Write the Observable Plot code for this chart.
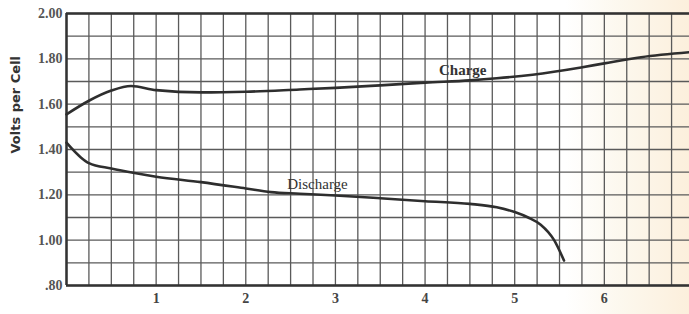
<!DOCTYPE html>
<html>
<head>
<meta charset="utf-8">
<script src="https://cdn.jsdelivr.net/npm/d3@7"></script>
<script src="https://cdn.jsdelivr.net/npm/@observablehq/plot@0.6"></script>
<style>
  html, body { margin: 0; padding: 0; background: #fff; }
  #chart svg { display: block; }
</style>
</head>
<body>
<div id="chart"></div>
<script>
// Charge curve (hours, volts per cell)
const chargeHours = [0, 0.25, 0.5, 0.72, 1.0, 1.5, 2.0, 2.6, 3.0, 3.5, 4.0, 4.5, 4.8, 5.2, 5.74, 6.0, 6.41, 6.95];
const chargeVolts = [1.555, 1.615, 1.66, 1.68, 1.662, 1.652, 1.655, 1.665, 1.672, 1.683, 1.695, 1.705, 1.714, 1.73, 1.762, 1.78, 1.807, 1.829];
// Discharge curve
const dischargeHours = [0, 0.16, 0.25, 0.5, 0.76, 1.0, 1.5, 2.0, 2.28, 2.6, 3.0, 3.5, 4.0, 4.5, 4.8, 5.0, 5.15, 5.29, 5.44, 5.55];
const dischargeVolts = [1.43, 1.365, 1.34, 1.316, 1.296, 1.28, 1.256, 1.228, 1.212, 1.205, 1.197, 1.185, 1.172, 1.16, 1.145, 1.124, 1.1, 1.068, 1.0, 0.91];
// Axis ticks
const xTicks = [1, 2, 3, 4, 5, 6];
const yTicks = [0.8, 1.0, 1.2, 1.4, 1.6, 1.8, 2.0];
const xGrid = d3.range(0, 29).map(i => i * 0.25);
const yGrid = d3.range(0, 13).map(i => 0.8 + i * 0.1);
// Curve labels
const chargeLabel = [{name: "Charge", hour: 4.42, volts: 1.75}];
const dischargeLabel = [{name: "Discharge", hour: 2.8, volts: 1.245}];

const charge = chargeHours.map((h, i) => ({hour: h, volts: chargeVolts[i]}));
const discharge = dischargeHours.map((h, i) => ({hour: h, volts: dischargeVolts[i]}));

const serif = "'Liberation Serif', 'DejaVu Serif', serif";

const plot = Plot.plot({
  width: 689,
  height: 314,
  marginLeft: 66,
  marginRight: 0,
  marginTop: 13,
  marginBottom: 29,
  style: {
    fontFamily: serif,
    background: "linear-gradient(to right, #ffffff 0%, #ffffff 82%, #fcf8ee 90%, #fcefdc 100%)",
    overflow: "visible"
  },
  x: {domain: [0, 6.95]},
  y: {domain: [0.8, 2.0]},
  marks: [
    Plot.ruleX(xGrid, {stroke: "#5a5a5a", strokeWidth: 1.3}),
    Plot.ruleY(yGrid, {stroke: "#5a5a5a", strokeWidth: 1.3}),
    Plot.ruleX([0], {stroke: "#333", strokeWidth: 2.5}),
    Plot.ruleY([0.8, 2.0], {stroke: "#333", strokeWidth: 2.5}),
    Plot.axisX({
      ticks: xTicks, tickSize: 0, tickPadding: 8, label: null,
      fontSize: 14, fontWeight: "bold", fill: "#444", tickFormat: d => String(d)
    }),
    Plot.axisY({
      ticks: yTicks, tickSize: 0, tickPadding: 4, label: null,
      fontSize: 14, fontWeight: "bold", fill: "#555",
      tickFormat: d => d < 1 ? d.toFixed(2).replace(/^0/, "") : d.toFixed(2)
    }),
    Plot.text(["Volts per Cell"], {
      frameAnchor: "left", dx: -51, dy: 4, rotate: -90,
      fontSize: 13, fontWeight: "bold", fill: "#333",
      fontFamily: "'DejaVu Sans', sans-serif"
    }),
    Plot.line(charge, {x: "hour", y: "volts", curve: "monotone-x", stroke: "#2e2e2e", strokeWidth: 2.6}),
    Plot.line(discharge, {x: "hour", y: "volts", curve: "monotone-x", stroke: "#2e2e2e", strokeWidth: 2.6}),
    Plot.text(chargeLabel, {
      x: "hour", y: "volts", text: "name", fontSize: 15,
      fontWeight: "bold", fill: "#333", fontFamily: serif
    }),
    Plot.text(dischargeLabel, {
      x: "hour", y: "volts", text: "name", fontSize: 15,
      fill: "#333", fontFamily: serif, letterSpacing: "0.5px"
    })
  ]
});

document.getElementById("chart").appendChild(plot);
</script>
</body>
</html>
